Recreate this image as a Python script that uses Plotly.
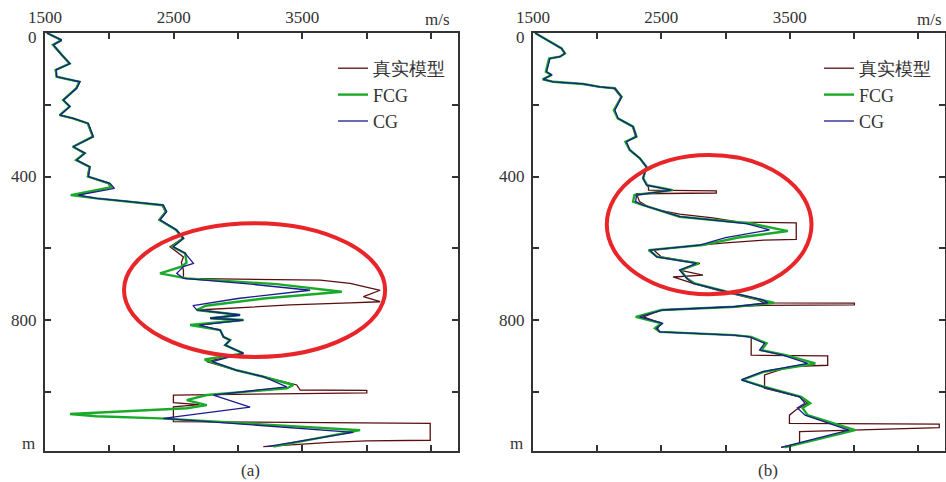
import plotly.graph_objects as go

# ---------------- Panel (a) data: depth (m) and velocity (m/s) ----------------
true_a_depth = [0, 20, 33, 61, 85, 103, 122, 136, 154, 187, 205, 229, 238, 252, 289, 317, 335, 354, 373, 400,
                419, 430, 452, 461, 470, 480, 498, 521, 549, 572, 596, 624, 640, 661, 684, 689, 698, 717, 735, 749,
                752, 758, 772, 786, 795, 800, 814, 828, 847, 856, 870, 893, 916, 940, 958, 981, 995, 996, 1003, 1005,
                1009, 1030, 1036, 1042, 1083, 1088, 1135, 1137, 1141, 1153]
true_a_vel = [1515, 1625, 1560, 1625, 1690, 1580, 1590, 1765, 1740, 1640, 1690, 1612, 1715, 1830, 1870, 1715, 1805, 1740, 1845, 1830,
              1990, 2010, 1740, 1900, 2150, 2410, 2435, 2385, 2515, 2570, 2472, 2576, 2560, 2576, 2576, 3639, 3872, 4105, 3975, 4105,
              3872, 3405, 2680, 3016, 2783, 3042, 2680, 2861, 2887, 2939, 2900, 3042, 2757, 2990, 3197, 3457, 3483, 4001, 4001, 3400,
              2498, 2498, 2700, 2498, 2498, 4494, 4494, 4000, 3716, 3197]

fcg_a_depth = [0, 20, 33, 61, 85, 103, 122, 136, 154, 187, 205, 229, 238, 252, 289, 317, 335, 354, 373, 400,
               419, 430, 452, 461, 470, 480, 498, 521, 549, 572, 596, 614, 640, 651, 670, 684, 700, 721, 740, 760,
               772, 786, 795, 800, 814, 828, 847, 856, 870, 893, 910, 940, 958, 981, 990, 1009, 1023, 1037, 1046, 1062,
               1068, 1074, 1107, 1153]
fcg_a_vel = [1515, 1628, 1562, 1628, 1692, 1584, 1590, 1768, 1744, 1641, 1692, 1614, 1718, 1833, 1872, 1717, 1808, 1742, 1847, 1834,
             1995, 2015, 1700, 1900, 2155, 2415, 2440, 2390, 2520, 2575, 2490, 2589, 2600, 2560, 2394, 2602, 3300, 3807, 3200, 2750,
             2680, 3016, 2783, 3042, 2628, 2861, 2887, 2939, 2900, 3042, 2740, 2990, 3197, 3431, 3380, 2757, 2602, 2757, 2602, 1694,
             1900, 2394, 3949, 3275]

cg_a_depth = [0, 20, 33, 61, 85, 103, 122, 136, 154, 187, 205, 229, 238, 252, 289, 317, 335, 354, 373, 400,
              419, 433, 452, 461, 470, 480, 498, 521, 549, 572, 596, 614, 642, 651, 670, 684, 700, 717, 740, 760,
              772, 786, 795, 800, 814, 828, 847, 856, 870, 893, 916, 940, 958, 986, 1009, 1043, 1074, 1113, 1153]
cg_a_vel = [1515, 1630, 1565, 1630, 1694, 1586, 1591, 1772, 1746, 1643, 1694, 1617, 1720, 1837, 1876, 1720, 1811, 1746, 1850, 1837,
            2005, 2040, 1760, 1902, 2161, 2420, 2446, 2394, 2524, 2576, 2498, 2589, 2654, 2576, 2524, 2576, 3100, 3561, 3000, 2650,
            2680, 3016, 2783, 3042, 2700, 2861, 2887, 2939, 2900, 3042, 2800, 2990, 3197, 3379, 2809, 3094, 2420, 3897, 3224]

# ---------------- Panel (b) data ----------------
true_b_depth = [0, 43, 57, 66, 71, 94, 108, 117, 129, 136, 142, 150, 154, 178, 215, 238, 261, 289, 303, 326,
                349, 373, 405, 430, 438, 440, 446, 448, 470, 485, 495, 505, 515, 527, 529, 575, 577, 585, 591, 605,
                624, 642, 661, 675, 680, 698, 716, 744, 752, 753, 758, 759, 765, 772, 791, 809, 823, 833, 842, 847,
                898, 900, 926, 930, 953, 990, 1014, 1032, 1050, 1065, 1088, 1090, 1100, 1106, 1111, 1144, 1155]
true_b_vel = [1516, 1720, 1745, 1705, 1630, 1615, 1600, 1640, 1585, 1655, 1880, 2010, 2130, 2185, 2135, 2160, 2275, 2300, 2225, 2250,
              2330, 2380, 2355, 2400, 2400, 2928, 2928, 2306, 2330, 2400, 2500, 2643, 2900, 3110, 3551, 3551, 3300, 3000, 2799, 2440,
              2500, 2800, 2643, 2824, 2591, 2747, 2928, 3250, 3300, 4004, 4004, 3300, 2900, 2500, 2360, 2500, 2470, 2488, 3058, 3200,
              3200, 3796, 3796, 3500, 3304, 3304, 3577, 3640, 3550, 3498, 3498, 4665, 4665, 4000, 3577, 3577, 3434]

fcg_b_depth = [0, 43, 57, 66, 71, 94, 108, 117, 129, 136, 142, 150, 154, 178, 215, 238, 261, 289, 303, 326,
               349, 373, 405, 424, 438, 452, 470, 480, 512, 531, 552, 570, 591, 605, 624, 642, 661, 684, 698, 721,
               744, 752, 763, 772, 791, 809, 823, 833, 842, 847, 865, 884, 898, 921, 944, 967, 986, 1014, 1032, 1045,
               1065, 1107, 1155]
fcg_b_vel = [1516, 1723, 1749, 1710, 1625, 1612, 1600, 1645, 1575, 1658, 1891, 2021, 2138, 2190, 2130, 2160, 2280, 2306, 2220, 2254,
             2332, 2384, 2358, 2390, 2590, 2290, 2280, 2358, 2643, 3200, 3486, 3100, 2820, 2400, 2470, 2790, 2650, 2700, 2760, 3010,
             3300, 3380, 3080, 2500, 2300, 2500, 2450, 2488, 3070, 3200, 3320, 3280, 3470, 3700, 3300, 3130, 3300, 3590, 3660, 3600,
             3640, 4010, 3460]

cg_b_depth = [0, 43, 57, 66, 71, 94, 108, 117, 129, 136, 142, 150, 154, 178, 215, 238, 261, 289, 303, 326,
              349, 373, 405, 424, 438, 452, 470, 480, 512, 531, 549, 570, 591, 605, 624, 642, 661, 684, 698, 721,
              744, 752, 763, 772, 791, 809, 823, 833, 842, 847, 865, 884, 898, 921, 944, 967, 986, 1014, 1032, 1045,
              1065, 1107, 1155]
cg_b_vel = [1516, 1723, 1749, 1710, 1632, 1619, 1606, 1645, 1580, 1658, 1891, 2021, 2138, 2190, 2138, 2163, 2280, 2306, 2228, 2254,
            2332, 2384, 2358, 2384, 2578, 2306, 2300, 2358, 2643, 3162, 3343, 3000, 2799, 2410, 2462, 2773, 2643, 2700, 2747, 3006,
            3291, 3330, 3058, 2513, 2332, 2513, 2462, 2488, 3058, 3187, 3304, 3265, 3447, 3640, 3291, 3123, 3291, 3577, 3620, 3560,
            3620, 3960, 3434]

series_names = ["真实模型", "FCG", "CG"]
x_tick_vals = [1500, 2000, 2500, 3000, 3500, 4000, 4500]
x_tick_text = ["1500", "", "2500", "", "3500", "", ""]
y_tick_vals = [0, 200, 400, 600, 800, 1000]
y_tick_text = ["", "", "400", "", "800", ""]
vel_range = [1500, 4710]
depth_range = [1165, 0]
# highlighted regions (velocity, depth) corners
ellipse_a = [2114, 4144, 530, 903]
ellipse_b = [2075, 3670, 340, 728]

W, H = 946, 482
TRUE_C = "#5a0f0f"
FCG_C = "#1aaa2a"
CG_C = "#1c1c8c"
SERIF = "Liberation Serif"
TXT = "#333333"

fig = go.Figure()

panels = [
    ("x", "y", "legend", [(true_a_vel, true_a_depth), (fcg_a_vel, fcg_a_depth), (cg_a_vel, cg_a_depth)]),
    ("x2", "y2", "legend2", [(true_b_vel, true_b_depth), (fcg_b_vel, fcg_b_depth), (cg_b_vel, cg_b_depth)]),
]
styles = [(TRUE_C, 1.3), (FCG_C, 2.4), (CG_C, 1.3)]
for xa, ya, lg, data in panels:
    for (vals, deps), name, (col, wd) in zip(data, series_names, styles):
        fig.add_trace(go.Scatter(x=vals, y=deps, mode="lines", name=name,
                                 line=dict(color=col, width=wd), xaxis=xa, yaxis=ya,
                                 legend=lg, showlegend=True))

def px_x(p):
    return p / W

def px_y(p):
    return 1 - p / H

ydom = [px_y(451), px_y(33)]
axis_common_x = dict(range=vel_range, side="top", tickmode="array", tickvals=x_tick_vals,
                     ticktext=x_tick_text, ticks="inside", ticklen=6, tickwidth=1.5, tickcolor=TXT,
                     showline=True, linecolor=TXT, linewidth=2, mirror="ticks", showgrid=False,
                     zeroline=False, automargin=False, ticklabelstandoff=1,
                     tickfont=dict(family=SERIF, size=17, color=TXT))
axis_common_y = dict(range=depth_range, tickmode="array", tickvals=y_tick_vals, ticktext=y_tick_text,
                     ticks="inside", ticklen=6, tickwidth=1.5, tickcolor=TXT, showline=True,
                     linecolor=TXT, linewidth=2, mirror="ticks", showgrid=False, zeroline=False,
                     automargin=False, ticklabelstandoff=3,
                     tickfont=dict(family=SERIF, size=17, color=TXT), domain=ydom)

legend_common = dict(font=dict(family=SERIF, size=18, color=TXT), bgcolor="rgba(0,0,0,0)",
                     borderwidth=0, xanchor="left", yanchor="top", tracegroupgap=0)

fig.update_layout(
    width=W, height=H, margin=dict(l=0, r=0, t=0, b=0, autoexpand=False),
    paper_bgcolor="white", plot_bgcolor="white",
    font=dict(family=SERIF, color=TXT),
    xaxis=dict(domain=[px_x(45), px_x(458)], anchor="y", **axis_common_x),
    yaxis=dict(anchor="x", **axis_common_y),
    xaxis2=dict(domain=[px_x(533), px_x(945)], anchor="y2", **axis_common_x),
    yaxis2=dict(anchor="x2", **axis_common_y),
    legend=dict(x=px_x(333), y=px_y(50), **legend_common),
    legend2=dict(x=px_x(819), y=px_y(50), **legend_common),
    showlegend=True,
)

for ref, e in (("", ellipse_a), ("2", ellipse_b)):
    fig.add_shape(type="circle", xref="x" + ref, yref="y" + ref, x0=e[0], x1=e[1], y0=e[2], y1=e[3],
                  line=dict(color="#e8262a", width=4))

ann = [("m/s", 437, 20, "center"), ("m/s", 929, 20, "center"), ("m", 28, 443, "center"),
       ("m", 516, 443, "center"), ("(a)", 250, 470, "center"), ("(b)", 768, 470, "center"),
       ("0", 39, 38, "right"), ("0", 527, 38, "right")]
for t, x, y, xa in ann:
    fig.add_annotation(text=t, x=px_x(x), y=px_y(y), xref="paper", yref="paper", showarrow=False,
                       xanchor=xa, yanchor="middle", font=dict(family=SERIF, size=17, color=TXT))

fig.write_html("out.html")
